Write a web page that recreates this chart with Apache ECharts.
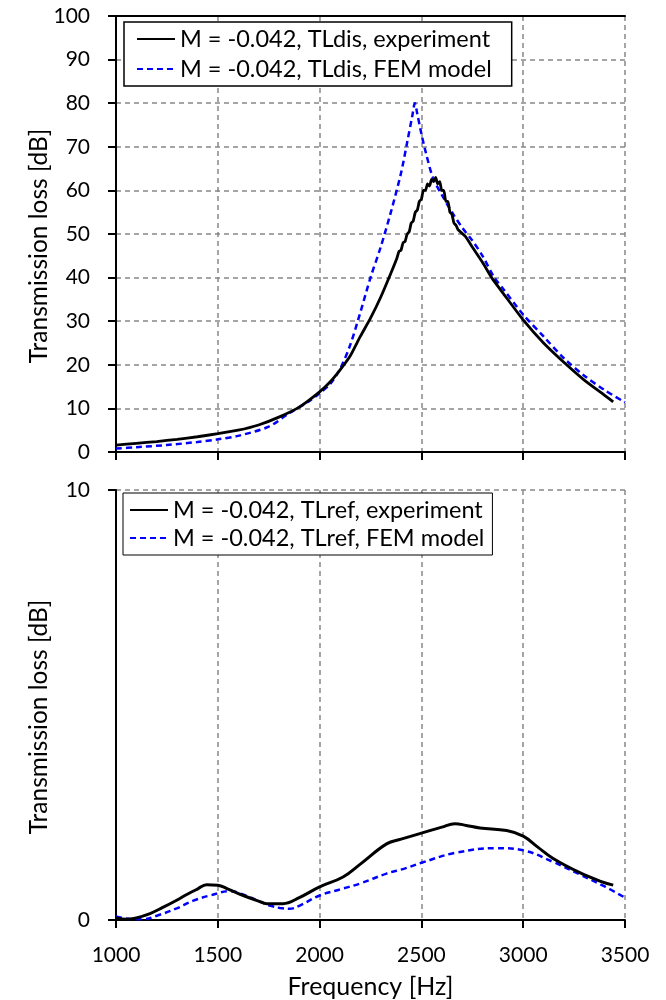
<!DOCTYPE html>
<html>
<head>
<meta charset="utf-8">
<script src="https://cdn.jsdelivr.net/npm/echarts@6/dist/echarts.min.js"></script>
<style>
html,body{margin:0;padding:0;background:#fff;}
#chart{width:666px;height:1000px;}
</style>
</head>
<body>
<div id="chart"></div>
<script>
// ---------- Data ----------
const xTicks = [1000, 1500, 2000, 2500, 3000, 3500];

// Top panel: TLdis
const topExpFreq = [1000,1100,1200,1300,1400,1500,1600,1700,1800,1900,2000,2050,2100,2150,2200,2250,2300,2350,
  2380,2390,2400,2410,2420,2430,2440,2450,2460,2470,2480,2490,2500,2510,2520,2530,2540,2550,2560,2570,2580,2590,
  2600,2610,2620,2630,2640,2650,2660,2670,2680,2715,2750,2800,2845,2900,3005,3100,3213,3300,3400,3442];
const topExpTL = [1.6,2.0,2.4,2.9,3.5,4.2,5.0,6.2,8.0,10.3,13.8,16.0,18.8,22.0,26.5,30.7,35.5,41.0,
  44.5,46.0,46.3,48.0,48.3,50.0,50.5,52.5,53.0,55.0,55.5,57.5,58.0,60.0,60.0,61.5,61.0,62.5,62.0,63.0,61.5,62.0,
  60.0,60.0,57.5,57.5,55.0,54.5,52.5,52.0,51.0,49.5,47.0,43.5,40.0,36.5,30.0,25.0,20.0,16.5,13.0,11.5];

const topFemFreq = [1000,1100,1250,1400,1500,1600,1750,1850,1950,2000,2050,2100,2150,2200,2250,2300,2350,2400,2430,2455,2468,
  2480,2500,2520,2556,2600,2650,2700,2750,2800,2858,2900,3000,3100,3200,3300,3400,3500];
const topFemTL = [0.8,1.1,1.6,2.3,2.9,3.7,5.8,8.9,11.7,13.5,15.5,19.0,24.5,32.0,40.0,47.0,55.0,64.0,71.0,77.0,80.0,
  77.5,73.0,69.0,63.0,59.0,55.0,51.5,48.5,45.0,40.0,37.5,31.5,26.5,21.5,17.5,14.2,11.4];

// Bottom panel: TLref
const botExpFreq = [1000,1050,1100,1167,1225,1298,1350,1400,1445,1500,1550,1625,1700,1740,1820,1900,2000,2115,2200,2329,
  2400,2500,2600,2665,2720,2788,2919,3000,3070,3147,3278,3380,3442];
const botExpTL = [0.05,0.02,0.05,0.15,0.28,0.46,0.60,0.72,0.82,0.81,0.72,0.57,0.44,0.38,0.38,0.52,0.77,1.00,1.30,1.77,
  1.88,2.02,2.16,2.24,2.20,2.14,2.08,1.95,1.70,1.43,1.10,0.90,0.81];

const botFemFreq = [1000,1060,1134,1200,1298,1380,1462,1560,1620,1691,1760,1805,1850,1900,2000,2115,2200,2329,2420,2500,
  2665,2870,3000,3147,3278,3400,3500];
const botFemTL = [0.08,0.03,0.02,0.10,0.27,0.45,0.57,0.67,0.60,0.46,0.33,0.28,0.26,0.33,0.57,0.73,0.85,1.08,1.20,1.33,
  1.56,1.67,1.62,1.35,1.06,0.78,0.52];

const names = {
  topExp: 'M = -0.042, TLdis, experiment',
  topFem: 'M = -0.042, TLdis, FEM model',
  botExp: 'M = -0.042, TLref, experiment',
  botFem: 'M = -0.042, TLref, FEM model'
};

// ---------- Chart ----------
const zip = (a, b) => a.map((v, i) => [v, b[i]]);
const FONT = 'Lato';
const gridLine = { show: true, lineStyle: { color: '#888', type: [5, 4], width: 1.5 } };
const axisLineStyle = { show: true, lineStyle: { color: '#000', width: 2 } };
const tickStyle = { show: true, length: 8, lineStyle: { color: '#000', width: 2 } };

const chart = echarts.init(document.getElementById('chart'), null, { renderer: 'canvas' });

const xBase = {
  type: 'value', min: xTicks[0], max: xTicks[xTicks.length - 1], interval: 500,
  axisLine: axisLineStyle,
  axisTick: tickStyle,
  splitLine: gridLine
};

const yName = {
  name: 'Transmission loss [dB]', nameLocation: 'middle', nameGap: 64, nameMoveOverlap: false,
  nameTextStyle: { fontSize: 24.5, color: '#000', fontFamily: FONT, padding: [0, 24, 0, 0] }
};

chart.setOption({
  backgroundColor: '#fff',
  textStyle: { fontFamily: FONT },
  animation: false,
  grid: [
    { left: 116, right: 41, top: 16, height: 436 },
    { left: 116, right: 41, top: 490, height: 431.5 }
  ],
  xAxis: [
    Object.assign({}, xBase, { gridIndex: 0, axisLabel: { show: false } }),
    Object.assign({}, xBase, {
      gridIndex: 1,
      axisLabel: { show: true, fontSize: 21, color: '#000', margin: 25, fontFamily: FONT,
        formatter: v => String(v) },
      name: 'Frequency [Hz]', nameLocation: 'middle', nameGap: 54,
      nameTextStyle: { fontSize: 25, color: '#000', fontFamily: FONT }
    }),
    { type: 'value', gridIndex: 0, position: 'top', min: 1000, max: 3500,
      axisLine: axisLineStyle, axisTick: { show: false }, axisLabel: { show: false }, splitLine: { show: false } }
  ],
  yAxis: [
    Object.assign({ type: 'value', gridIndex: 0, min: 0, max: 100, interval: 10,
      axisLine: axisLineStyle, axisTick: tickStyle,
      axisLabel: { fontSize: 21, color: '#000', margin: 26, fontFamily: FONT },
      splitLine: gridLine }, yName),
    Object.assign({ type: 'value', gridIndex: 1, min: 0, max: 10, interval: 10,
      axisLine: axisLineStyle, axisTick: tickStyle,
      axisLabel: { fontSize: 21, color: '#000', margin: 26, fontFamily: FONT },
      splitLine: gridLine }, yName)
  ],
  legend: [
    { data: [names.topExp, names.topFem], orient: 'vertical', left: 124, top: 22,
      itemWidth: 38, itemHeight: 12, itemGap: 6,
      itemStyle: { opacity: 0 },
      padding: [5, 20, 5, 12], borderColor: '#000', borderWidth: 1.5, backgroundColor: '#fff',
      textStyle: { fontSize: 23.5, color: '#000', fontFamily: FONT } },
    { data: [names.botExp, names.botFem], orient: 'vertical', left: 123, top: 493,
      itemWidth: 38, itemHeight: 12, itemGap: 4,
      itemStyle: { opacity: 0 },
      padding: [5, 8, 5, 6], borderColor: '#000', borderWidth: 1, backgroundColor: '#fff',
      textStyle: { fontSize: 23.5, color: '#000', fontFamily: FONT } }
  ],
  series: [
    { type: 'line', name: names.topFem, xAxisIndex: 0, yAxisIndex: 0, data: zip(topFemFreq, topFemTL),
      symbol: 'none', smooth: 0.3, lineStyle: { color: '#0000ff', width: 2.5, type: [6, 4] }, itemStyle: { color: '#0000ff' } },
    { type: 'line', name: names.topExp, xAxisIndex: 0, yAxisIndex: 0, data: zip(topExpFreq, topExpTL),
      symbol: 'none', smooth: 0.2, lineStyle: { color: '#000', width: 2.8 }, itemStyle: { color: '#000' } },
    { type: 'line', name: names.botFem, xAxisIndex: 1, yAxisIndex: 1, data: zip(botFemFreq, botFemTL),
      symbol: 'none', smooth: 0.4, lineStyle: { color: '#0000ff', width: 2.5, type: [6, 4] }, itemStyle: { color: '#0000ff' } },
    { type: 'line', name: names.botExp, xAxisIndex: 1, yAxisIndex: 1, data: zip(botExpFreq, botExpTL),
      symbol: 'none', smooth: 0.4, lineStyle: { color: '#000', width: 3 }, itemStyle: { color: '#000' } }
  ]
});
</script>
</body>
</html>
